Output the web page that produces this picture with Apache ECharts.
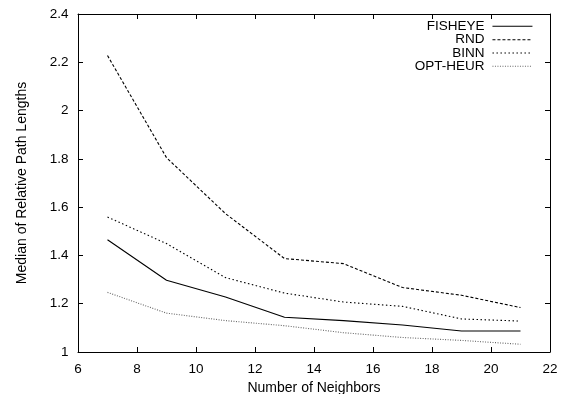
<!DOCTYPE html>
<html><head><meta charset="utf-8">
<script src="https://cdn.jsdelivr.net/npm/echarts@6/dist/echarts.min.js"></script>
<style>html,body{margin:0;padding:0;background:#fff}#c{width:564px;height:394px}</style>
</head><body><div id="c"></div>
<script>
const neighbors = [7, 9, 11, 13, 15, 17, 19, 21];
const fisheye = [1.465, 1.297, 1.228, 1.144, 1.130, 1.112, 1.087, 1.087];
const rnd     = [2.228, 1.805, 1.573, 1.387, 1.366, 1.267, 1.235, 1.184];
const binn    = [1.559, 1.449, 1.308, 1.244, 1.207, 1.189, 1.137, 1.128];
const optHeur = [1.247, 1.161, 1.130, 1.109, 1.080, 1.060, 1.048, 1.032];
const seriesNames = ['FISHEYE', 'RND', 'BINN', 'OPT-HEUR'];
const xTicks = [6, 8, 10, 12, 14, 16, 18, 20, 22];
const yTicks = [1, 1.2, 1.4, 1.6, 1.8, 2, 2.2, 2.4];

const font = 'Liberation Sans, Arial, Helvetica, sans-serif';
const pair = a => neighbors.map((x, i) => [x, a[i]]);
const mk = (name, data, color, type) => ({
  name, type: 'line', data: pair(data), symbol: 'none', animation: false,
  lineStyle: { color, width: 1.1, type }, itemStyle: { color }
});
const chart = echarts.init(document.getElementById('c'), null, { renderer: 'canvas' });
const axisCommon = {
  axisLine: { show: true, onZero: false, lineStyle: { color: '#000', width: 1 } },
  axisTick: { show: true, inside: true, length: 5, lineStyle: { color: '#000' } },
  splitLine: { show: false }
};
const legendTops = [19.3, 32.7, 46, 59.3];
const legends = seriesNames.map((n, i) => ({
  orient: 'horizontal', right: 31, top: legendTops[i], align: 'right',
  itemWidth: 40, itemHeight: 14, itemGap: 0, padding: 0,
  itemStyle: { opacity: 0 },
  lineStyle: { width: 1.1 },
  textStyle: { fontFamily: font, fontSize: 13.5, color: '#000', lineHeight: 14, padding: [0, 3, 0, 0] },
  data: [n]
}));
chart.setOption({
  animation: false,
  grid: { left: 78, top: 14, right: 14, bottom: 42, containLabel: false, outerBoundsMode: 'none' },
  xAxis: [
    Object.assign({ type: 'value', min: xTicks[0], max: xTicks[xTicks.length - 1], interval: 2,
      name: 'Number of Neighbors', nameLocation: 'middle', nameGap: 24,
      nameTextStyle: { fontFamily: font, fontSize: 14, color: '#000' },
      axisLabel: { fontFamily: font, fontSize: 13.5, color: '#000', margin: 10 } }, axisCommon),
    Object.assign({ type: 'value', position: 'top', min: 6, max: 22, interval: 2,
      axisLabel: { show: false } }, axisCommon)
  ],
  yAxis: [
    Object.assign({ type: 'value', min: yTicks[0], max: yTicks[yTicks.length - 1], interval: 0.2,
      name: 'Median of Relative Path Lengths', nameLocation: 'middle', nameGap: 49,
      nameTextStyle: { fontFamily: font, fontSize: 14, color: '#000' },
      axisLabel: { fontFamily: font, fontSize: 13.5, color: '#000', margin: 9.5,
        formatter: v => String(Math.round(v * 10) / 10) } }, axisCommon),
    Object.assign({ type: 'value', position: 'right', min: 1, max: 2.4, interval: 0.2,
      axisLabel: { show: false } }, axisCommon)
  ],
  legend: legends,
  series: [
    mk(seriesNames[0], fisheye, '#000', 'solid'),
    mk(seriesNames[1], rnd, '#000', [3, 2]),
    mk(seriesNames[2], binn, '#000', [1.5, 2.5]),
    mk(seriesNames[3], optHeur, '#666', [1, 1.5])
  ]
});
</script></body></html>
